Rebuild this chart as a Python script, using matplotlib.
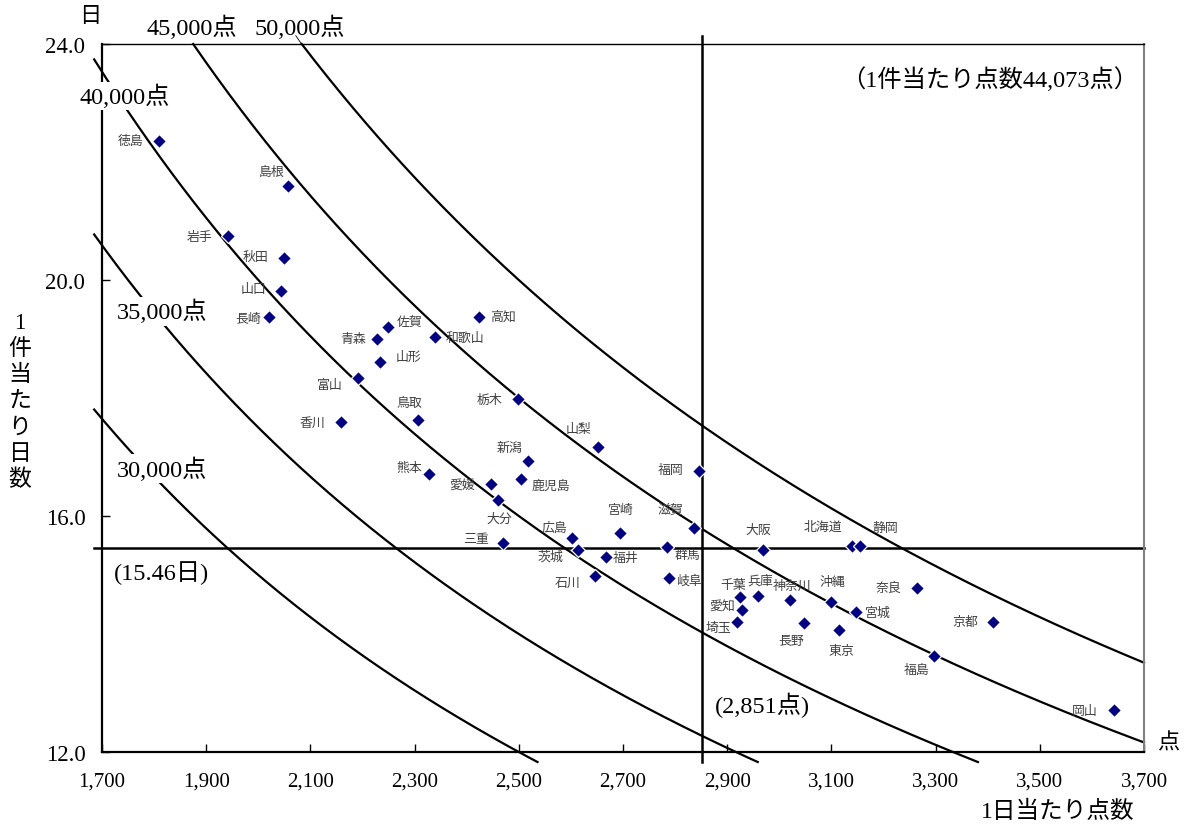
import numpy as np
import matplotlib
matplotlib.use('Agg')
import matplotlib.pyplot as plt

SERIF = ['Liberation Serif', 'Noto Sans CJK JP']
SANS = ['Noto Sans CJK JP', 'DejaVu Sans']

# prefecture data: 1日当たり点数 (x), 1件当たり日数 (y)
names = ['徳島', '島根', '岩手', '秋田', '山口', '長崎', '佐賀', '青森', '和歌山', '高知',
         '山形', '富山', '鳥取', '香川', '栃木', '山梨', '新潟', '熊本', '愛媛', '鹿児島',
         '大分', '三重', '広島', '茨城', '福井', '石川', '宮崎', '福岡', '滋賀', '群馬',
         '岐阜', '大阪', '北海道', '静岡', '千葉', '兵庫', '愛知', '埼玉', '神奈川', '長野',
         '沖縄', '宮城', '東京', '奈良', '京都', '福島', '岡山']
points_per_day = [1809, 2057, 1942, 2049, 2044, 2021, 2249, 2228, 2339, 2424,
                  2233, 2192, 2306, 2158, 2498, 2652, 2518, 2328, 2446, 2505,
                  2461, 2470, 2602, 2614, 2667, 2646, 2694, 2846, 2836, 2784,
                  2789, 2969, 3140, 3155, 2925, 2959, 2928, 2919, 3020, 3047,
                  3099, 3147, 3114, 3265, 3411, 3296, 3642]
days_per_case = [22.36, 21.59, 20.74, 20.38, 19.82, 19.38, 19.20, 19.00, 19.03, 19.37,
                 18.61, 18.34, 17.63, 17.59, 17.99, 17.17, 16.94, 16.72, 16.54, 16.63,
                 16.27, 15.55, 15.63, 15.43, 15.30, 14.99, 15.71, 16.77, 15.80, 15.48,
                 14.95, 15.42, 15.49, 15.50, 14.63, 14.65, 14.41, 14.20, 14.57, 14.19,
                 14.54, 14.37, 14.07, 14.78, 14.21, 13.63, 12.71]

# iso-lines of 1件当たり点数
levels = [30000, 35000, 40000, 45000, 50000]
level_labels = ['30,000点', '35,000点', '40,000点', '45,000点', '50,000点']

avg_points_per_day = 2851
avg_days_per_case = 15.46
avg_points_per_case = '44,073'

x_ticks = list(range(1700, 3701, 200))
y_ticks = [12.0, 16.0, 20.0, 24.0]

# label offsets (pixels, screen: right / down) for each prefecture name
label_off = {
    '徳島': (-28.5, 0), '島根': (-16.3, -14.6), '岩手': (-28.3, 0), '秋田': (-28.7, -1),
    '山口': (-27.7, -1.7), '長崎': (-21.5, 2.3), '佐賀': (22, -6), '青森': (-24, -0.7),
    '和歌山': (30.5, 0), '高知': (24, -1.3), '山形': (28.6, -5.3), '富山': (-28.3, 6.3),
    '鳥取': (-8.2, -17.7), '香川': (-28.4, 0), '栃木': (-28, 0.7), '山梨': (-19.7, -18),
    '新潟': (-18.6, -13.6), '熊本': (-19.8, -5.7), '愛媛': (-28.7, 0), '鹿児島': (29.2, 7),
    '大分': (0.8, 18.7), '三重': (-27, -3.7), '広島': (-17.3, -10.7), '茨城': (-28.1, 6.6),
    '福井': (19.8, 0), '石川': (-27.5, 6.6), '宮崎': (0.8, -23.6), '福岡': (-28.5, -1),
    '滋賀': (-23.2, -18), '群馬': (20.5, 8.3), '岐阜': (19.4, 2), '大阪': (-5, -21),
    '北海道': (-29, -19.3), '静岡': (25.3, -18.4), '千葉': (-6.7, -12.7), '兵庫': (2.7, -16),
    '神奈川': (2.6, -14.6), '沖縄': (1, -20.6), '愛知': (-19.8, -3.7), '埼玉': (-18.7, 5),
    '長野': (-12.8, 17.7), '宮城': (22, 0.3), '東京': (2.6, 20.7), '奈良': (-28.6, -0.7),
    '京都': (-28.6, 0), '福島': (-17.1, 13.7), '岡山': (-28.7, 0),
}

fig = plt.figure(figsize=(11.89, 8.29), dpi=100)
ax = fig.add_axes([102/1189, 1-753/829, 1042/1189, 708/829])
ax.set_xlim(1700, 3700)
ax.set_ylim(12, 24)

# iso-curves, slightly overrunning the frame like the original
for k in levels:
    x0 = max(1685, k/24.0)
    x1 = min(3700, k/11.83)
    xs = np.linspace(x0, x1, 400)
    ax.plot(xs, k/xs, color='black', lw=1.6, clip_on=False, zorder=2)

# average lines
ax.plot([avg_points_per_day, avg_points_per_day], [11.83, 24.14], color='black',
        lw=1.8, clip_on=False, zorder=2)
ax.plot([1685, 3700], [avg_days_per_case, avg_days_per_case], color='black',
        lw=1.8, clip_on=False, zorder=2)

ax.plot(points_per_day, days_per_case, linestyle='none', marker='D', ms=6.8,
        mfc='#000080', mec='white', mew=0.9, zorder=4, clip_on=False)

for n, x, y in zip(names, points_per_day, days_per_case):
    dx, dy = label_off[n]
    ax.annotate(n, (x, y), xytext=(dx, -dy), textcoords='offset pixels',
                ha='center', va='center', fontsize=9.3, color='#404040',
                family=SANS, zorder=5)

# curve labels
FS = 17.5
wbox = dict(facecolor='white', edgecolor='none', pad=1.5)
ax.text(1744, 23.12, level_labels[2], ha='center', va='center', fontsize=FS,
        family=SERIF, bbox=wbox, zorder=3, clip_on=False)
ax.text(1815, 19.47, level_labels[1], ha='center', va='center', fontsize=FS,
        family=SERIF, bbox=wbox, zorder=3)
ax.text(1815, 16.80, level_labels[0], ha='center', va='center', fontsize=FS,
        family=SERIF, bbox=wbox, zorder=3)
ax.text(1873, 24.29, level_labels[3], ha='center', va='center', fontsize=FS,
        family=SERIF, clip_on=False)
ax.text(2080, 24.29, level_labels[4], ha='center', va='center', fontsize=FS,
        family=SERIF, clip_on=False)
ax.plot([2072, 2083], [24.14, 24.0], color='black', lw=0.6, clip_on=False)

ax.text(3404, 23.41, '（1件当たり点数' + avg_points_per_case + '点）', ha='center',
        va='center', fontsize=FS, family=SERIF)
ax.text(1815, 15.05, '(%.2f日)' % avg_days_per_case, ha='center', va='center',
        fontsize=FS, family=SERIF)
ax.text(2967, 12.80, '(2,851点)', ha='center', va='center', fontsize=FS,
        family=SERIF)

# unit labels
ax.text(1677, 24.47, '日', ha='center', va='center', fontsize=16, family=SERIF,
        clip_on=False)
ax.text(3746, 12.14, '点', ha='center', va='center', fontsize=16, family=SERIF,
        clip_on=False)
fig.text(1058/1189, 1-812/829, '1日当たり点数', ha='center', va='center',
         fontsize=17, family=SERIF)
fig.text(20/1189, 1-402/829, '1\n件\n当\nた\nり\n日\n数', ha='center', va='center',
         fontsize=16.5, family=SERIF, linespacing=1.32)

ax.set_xticks(x_ticks)
ax.set_xticklabels(['{:,}'.format(v) for v in x_ticks], family=SERIF, fontsize=15)
ax.set_yticks(y_ticks)
ax.set_yticklabels(['%.1f' % v for v in y_ticks], family=SERIF, fontsize=16.5)
ax.tick_params(axis='both', direction='in', length=6, width=1, color='black')
ax.tick_params(axis='x', pad=14)
ax.tick_params(axis='y', pad=12)

for s in ['left', 'bottom']:
    ax.spines[s].set_linewidth(1.6)
ax.spines['top'].set_linewidth(1.0)
ax.spines['right'].set_color('#808080')
ax.spines['right'].set_linewidth(1.5)

fig.savefig('out.png', dpi=100)
